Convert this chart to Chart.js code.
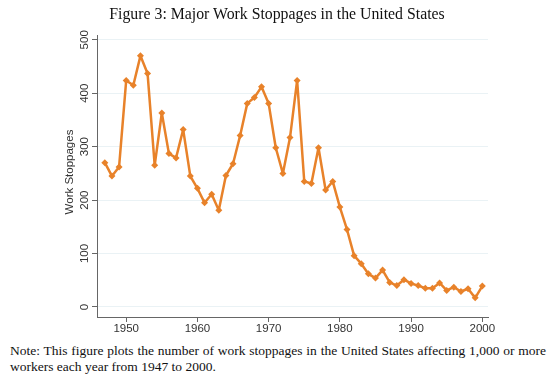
<!DOCTYPE html>
<html>
<head>
<meta charset="utf-8">
<script src="https://cdn.jsdelivr.net/npm/chart.js@4.4.0/dist/chart.umd.min.js"></script>
<style>
  html, body { margin: 0; padding: 0; background: #fff; }
  #wrap { position: relative; width: 554px; height: 385px; }
  #box { position: absolute; left: 0; top: 0; width: 554px; height: 340px; }
  #title {
    position: absolute; left: 0; top: 4px; width: 554px; text-align: center;
    font-family: "Liberation Serif", serif; font-size: 15.8px; line-height: 20px; color: #111;
  }
  #note {
    position: absolute; left: 10px; top: 343px; width: 536px;
    font-family: "Liberation Serif", serif; font-size: 13.5px; line-height: 16px;
    color: #111; text-align: justify; text-align-last: left;
  }
</style>
</head>
<body>
<div id="wrap">
  <div id="box"><canvas id="myChart"></canvas></div>
  <div id="title">Figure 3: Major Work Stoppages in the United States</div>
  <div id="note">Note: This figure plots the number of work stoppages in the United States affecting 1,000 or more workers each year from 1947 to 2000.</div>
</div>
<script>
// Datos: paros laborales mayores por año
const years = [1947, 1948, 1949, 1950, 1951, 1952, 1953, 1954, 1955, 1956,
  1957, 1958, 1959, 1960, 1961, 1962, 1963, 1964, 1965, 1966,
  1967, 1968, 1969, 1970, 1971, 1972, 1973, 1974, 1975, 1976,
  1977, 1978, 1979, 1980, 1981, 1982, 1983, 1984, 1985, 1986,
  1987, 1988, 1989, 1990, 1991, 1992, 1993, 1994, 1995, 1996,
  1997, 1998, 1999, 2000];
const stoppages = [270, 245, 262, 424, 415, 470, 437, 265, 363, 287,
  279, 332, 245, 222, 195, 211, 181, 246, 268, 321,
  381, 392, 412, 381, 298, 250, 317, 424, 235, 231,
  298, 219, 235, 187, 145, 96, 81, 62, 54, 69,
  46, 40, 51, 44, 40, 35, 35, 45, 31, 37,
  29, 34, 17, 39];
const xTicks = [1950, 1960, 1970, 1980, 1990, 2000];
const yTicks = [0, 100, 200, 300, 400, 500];
const yTitle = 'Work Stoppages';

const orange = '#e8822a';
const sans = '"Liberation Sans", Arial, sans-serif';
const points = years.map((y, i) => ({ x: y, y: stoppages[i] }));

// Etiquetas verticales del eje Y (estilo Stata)
const yLabels = {
  id: 'yLabels',
  afterDraw(chart) {
    const c = chart.ctx, y = chart.scales.y;
    c.save();
    c.fillStyle = '#333';
    c.font = '11.5px ' + sans;
    c.textAlign = 'center';
    c.textBaseline = 'middle';
    yTicks.forEach(v => {
      c.save();
      c.translate(y.right - 12, y.getPixelForValue(v));
      c.rotate(-Math.PI / 2);
      c.fillText(String(v), 0, 0);
      c.restore();
    });
    c.translate(y.right - 27, (chart.chartArea.top + chart.chartArea.bottom) / 2 - 4);
    c.rotate(-Math.PI / 2);
    c.fillText(yTitle, 0, 0);
    c.restore();
  }
};

var ctx = document.getElementById('myChart').getContext('2d');
var myChart = new Chart(ctx, {
  type: 'line',
  data: {
    datasets: [{
      data: points,
      borderColor: orange,
      backgroundColor: orange,
      borderWidth: 2.5,
      borderJoinStyle: 'round',
      pointStyle: 'rectRot',
      pointRadius: 3.5,
      pointBorderWidth: 0,
      tension: 0
    }]
  },
  options: {
    responsive: true,
    maintainAspectRatio: false,
    animation: false,
    layout: { padding: { top: 35, left: 0, right: 66, bottom: 0 } },
    plugins: {
      legend: { display: false },
      tooltip: { enabled: false },
      title: { display: false }
    },
    scales: {
      x: {
        type: 'linear',
        min: 1945.9,
        max: 2000.8,
        afterBuildTicks: s => { s.ticks = xTicks.map(v => ({ value: v })); },
        afterFit: s => { s.height = 23; },
        grid: { drawOnChartArea: false, tickLength: 5, tickColor: '#666' },
        border: { color: '#666', width: 1 },
        ticks: {
          color: '#333', padding: 0, maxRotation: 0,
          font: { family: sans, size: 11.5 },
          callback: v => String(v)
        }
      },
      y: {
        min: -18.8,
        max: 509,
        afterBuildTicks: s => { s.ticks = yTicks.map(v => ({ value: v })); },
        afterFit: s => { s.width = 97; },
        grid: { color: '#eaf2f5', lineWidth: 1, tickLength: 5, tickColor: '#666' },
        border: { color: '#666', width: 1 },
        ticks: { display: false }
      }
    }
  },
  plugins: [yLabels]
});
</script>
</body>
</html>
